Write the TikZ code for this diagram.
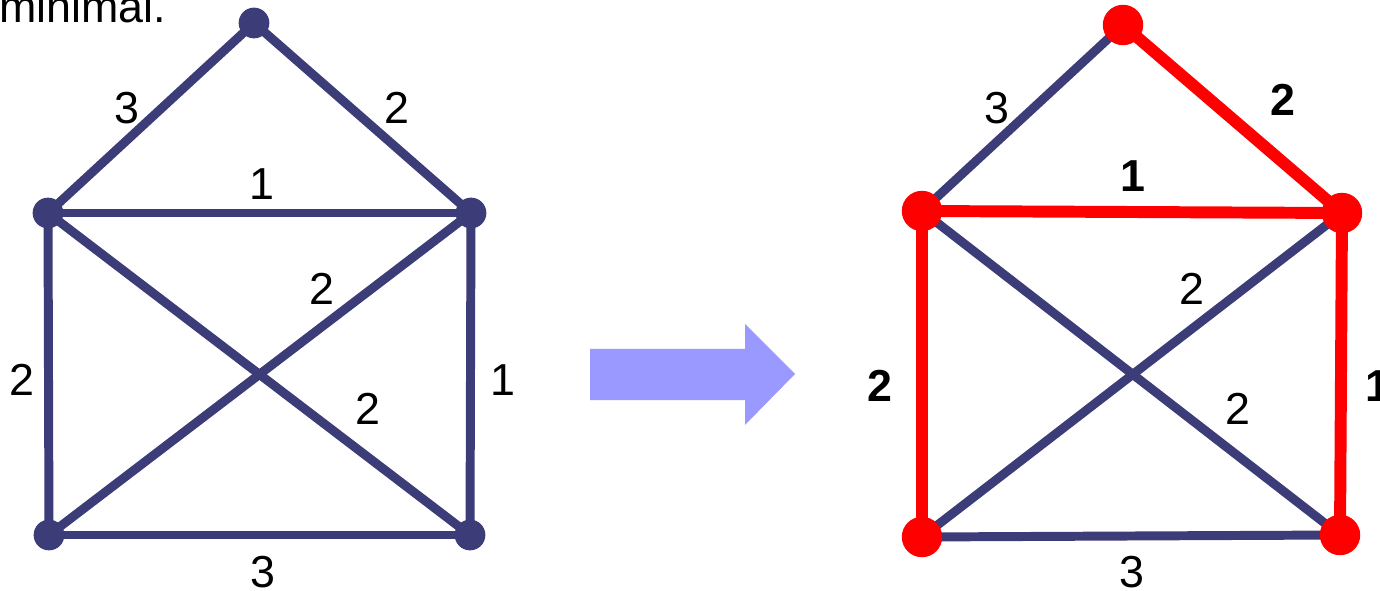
\documentclass[tikz,border=0pt]{standalone}
\usepackage{fontspec}
\setmainfont{Liberation Sans}
\definecolor{edgeblue}{RGB}{60,60,120}
\definecolor{arrowblue}{RGB}{153,153,255}
\definecolor{hired}{RGB}{255,0,0}
\begin{document}
\begin{tikzpicture}[x=0.02cm,y=-0.02cm,
  plain/.style={line width=5.1pt,draw=edgeblue},
  hot/.style={line width=6.8pt,draw=hired},
  dot/.style={circle,fill=edgeblue,minimum size=17.5pt,inner sep=0pt},
  hotdot/.style={circle,fill=hired,minimum size=23pt,inner sep=0pt},
  lab/.style={font=\fontsize{25.5}{30}\selectfont,inner sep=0pt},
  blab/.style={font=\fontsize{25.5}{30}\selectfont\bfseries,inner sep=0pt}]
\useasboundingbox (0,0) rectangle (1380,591);
\node[lab,anchor=base west] (title) at (-1,23) {minimal.};
% left graph
\coordinate (lt) at (254,23);
\coordinate (lul) at (48,213);
\coordinate (lur) at (471,213);
\coordinate (lll) at (49,535);
\coordinate (llr) at (470,535);
\draw[plain] (lt) -- (lul);
\draw[plain] (lt) -- (lur);
\draw[plain] (lul) -- (lur);
\draw[plain] (lul) -- (lll);
\draw[plain] (lur) -- (llr);
\draw[plain] (lul) -- (llr);
\draw[plain] (lur) -- (lll);
\draw[plain] (lll) -- (llr);
\foreach \n in {lt,lul,lur,lll,llr} \node[dot] at (\n) {};
\node[lab] (l1) at (127,108) {3};
\node[lab] (l2) at (397,108) {2};
\node[lab] (l3) at (262,184) {1};
\node[lab] (l4) at (322,289) {2};
\node[lab] (l5) at (22,380) {2};
\node[lab] (l6) at (503,380) {1};
\node[lab] (l7) at (368,409) {2};
\node[lab] (l8) at (263,572) {3};
% arrow
\fill[arrowblue] (590,349) -- (745,349) -- (745,324) -- (795,374) -- (745,425) -- (745,400) -- (590,400) -- cycle;
% right graph
\coordinate (rt) at (1123,25);
\coordinate (rul) at (922,211);
\coordinate (rur) at (1342,213);
\coordinate (rll) at (922,537);
\coordinate (rlr) at (1340,535);
\draw[plain] (rt) -- (rul);
\draw[plain] (rul) -- (rlr);
\draw[plain] (rur) -- (rll);
\draw[plain] (rll) -- (rlr);
\draw[hot] (rt) -- (rur);
\draw[hot] (rul) -- (rur);
\draw[hot] (rul) -- (rll);
\draw[hot] (rur) -- (rlr);
\foreach \n in {rt,rul,rur,rll,rlr} \node[hotdot] at (\n) {};
\node[lab] (r1) at (997,108) {3};
\node[blab] (r2) at (1283,100) {2};
\node[blab] (r3) at (1133,176) {1};
\node[lab] (r4) at (1192,289) {2};
\node[blab] (r5) at (880,386) {2};
\node[blab] (r6) at (1378,386) {1};
\node[lab] (r7) at (1238,409) {2};
\node[lab] (r8) at (1132,572) {3};
\end{tikzpicture}
\end{document}
